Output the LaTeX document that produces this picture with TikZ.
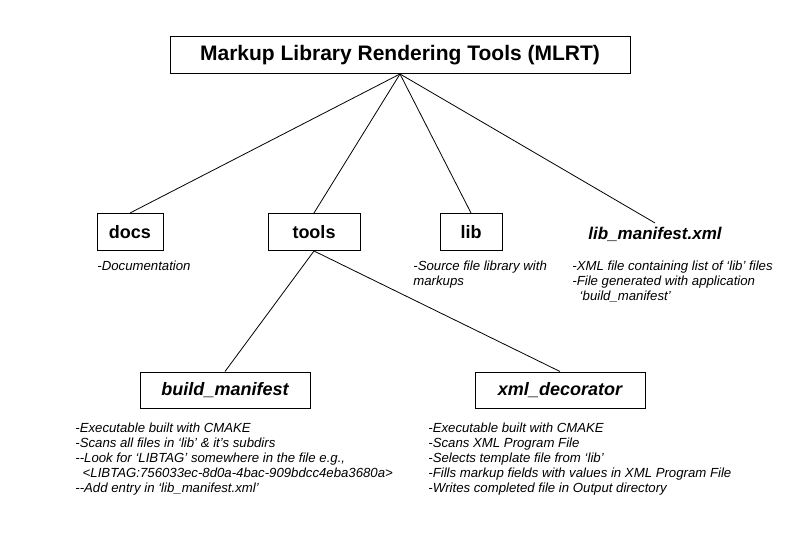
\documentclass[tikz,border=0pt]{standalone}
\usepackage{fontspec}
\setmainfont{Liberation Sans}

\begin{document}
\begin{tikzpicture}[x=1pt,y=1pt,line width=0.8pt]
            \useasboundingbox (0,0) rectangle (800,552);
            \tikzset{note/.style={anchor=north west,align=left,inner sep=0pt,
                    font=\itshape\fontsize{13.2}{15}\selectfont}}
            \begin{scope}[every node/.style={rectangle,draw=black,line width=1pt,minimum height=37pt,
                    font=\bfseries\fontsize{18}{20}\selectfont}]
                \node[minimum width=460pt,font=\bfseries\fontsize{21}{24}\selectfont] (mlrt) at (400,497) {Markup Library Rendering Tools (MLRT)};
                \node[minimum width=66pt] (docs) at (130,320) {docs};
                \node[minimum width=92pt] (tools) at (314,320) {tools};
                \node[minimum width=62pt] (lib) at (471,320) {lib};
                \node[draw=none,minimum height=0pt,font=\bfseries\itshape\fontsize{17}{20}\selectfont] (manifest) at (655,318) {lib\_manifest.xml};
                \node[minimum width=170pt,minimum height=36pt,font=\bfseries\itshape\fontsize{18}{20}\selectfont] (build) at (225,162) {build\_manifest};
                \node[minimum width=170pt,minimum height=36pt,font=\bfseries\itshape\fontsize{18}{20}\selectfont] (xml) at (560,162) {xml\_decorator};
            \end{scope}
            \node[note] (docsnote) at (97,291) {-Documentation};
            \node[note] (libnote) at (413,291) {-Source file library with\\markups};
            \node[note] (manifestnote) at (572,291) {-XML file containing list of `lib' files\\-File generated with application\\\ \ `build\_manifest'};
            \node[note] (buildnote) at (75,129) {-Executable built with CMAKE\\-Scans all files in `lib' \& it's subdirs\\-{}-Look for `LIBTAG' somewhere in the file e.g.,\\\ \ <LIBTAG:756033ec-8d0a-4bac-909bdcc4eba3680a>\\-{}-Add entry in `lib\_manifest.xml'};
            \node[note] (xmlnote) at (428,129) {-Executable built with CMAKE\\-Scans XML Program File\\-Selects template file from `lib'\\-Fills markup fields with values in XML Program File\\-Writes completed file in Output directory};
            \draw (mlrt.south) edge (docs.north);
            \draw (mlrt.south) edge (tools.north);
            \draw (mlrt.south) edge (lib.north);
            \draw (mlrt.south) edge (manifest.north);
            \draw (tools.south) edge (build.north);
            \draw (tools.south) edge (xml.north);
        \end{tikzpicture}
\end{document}
